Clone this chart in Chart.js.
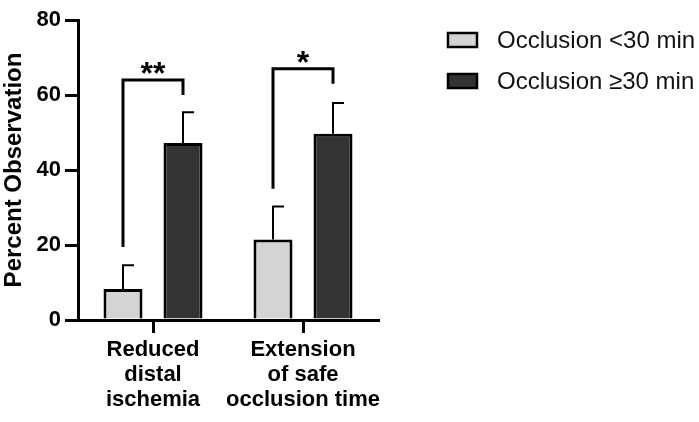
<!DOCTYPE html>
<html>
<head>
<meta charset="utf-8">
<script src="https://cdn.jsdelivr.net/npm/chart.js@4"></script>
<style>
  html, body { margin: 0; padding: 0; background: #ffffff; }
  #wrap { width: 699px; height: 422px; position: relative; }
</style>
</head>
<body>
<div id="wrap"><canvas id="myChart" width="699" height="422"></canvas></div>
<script>
// categories (multi-line labels)
var categories = [["Reduced", "distal", "ischemia"], ["Extension", "of safe", "occlusion time"]];
var seriesNames = ["Occlusion <30 min", "Occlusion \u226530 min"];

// mean values and upper error (SEM) per series
var shortValues = [8.3, 21.5];
var longValues = [47.2, 49.7];
var shortErr = [6.3, 8.8];
var longErr = [8.2, 8.2];

// y axis ticks
var yTicks = [0, 20, 40, 60, 80];

// significance brackets: left leg start, bracket top, right leg end, label
var bracketLeft = [19.5, 35];
var bracketTop = [64, 67];
var bracketRight = [60, 63];
var bracketText = ["**", "*"];

var lightColor = "#d4d4d4";
var darkColor = "#333333";

var data = {
    labels: categories,
    datasets: [{
        label: seriesNames[0],
        backgroundColor: lightColor,
        borderColor: "#000000",
        borderWidth: 3,
        data: shortValues,
        err: shortErr
    }, {
        label: seriesNames[1],
        backgroundColor: darkColor,
        borderColor: "#000000",
        borderWidth: 3,
        data: longValues,
        err: longErr
    }]
};

// error bars + brackets + legend
var extras = {
    id: "extras",
    afterDatasetsDraw: function (chart) {
        var ctx = chart.ctx;
        var y = chart.scales.y;
        ctx.save();
        ctx.strokeStyle = "#000000";
        ctx.lineCap = "butt";

        // error bars (upper only, cap to the right)
        chart.data.datasets.forEach(function (ds, di) {
            var meta = chart.getDatasetMeta(di);
            meta.data.forEach(function (bar, i) {
                var top = y.getPixelForValue(ds.data[i]);
                var end = y.getPixelForValue(ds.data[i] + ds.err[i]);
                ctx.lineWidth = 2;
                ctx.beginPath();
                ctx.moveTo(bar.x, top);
                ctx.lineTo(bar.x, end);
                ctx.moveTo(bar.x - 1, end);
                ctx.lineTo(bar.x + 11, end);
                ctx.stroke();
            });
        });

        // brackets
        var m0 = chart.getDatasetMeta(0);
        var m1 = chart.getDatasetMeta(1);
        for (var i = 0; i < bracketTop.length; i++) {
            var x0 = m0.data[i].x;
            var x1 = m1.data[i].x;
            var yt = y.getPixelForValue(bracketTop[i]);
            ctx.lineWidth = 3;
            ctx.beginPath();
            ctx.moveTo(x0, y.getPixelForValue(bracketLeft[i]));
            ctx.lineTo(x0, yt);
            ctx.lineTo(x1, yt);
            ctx.lineTo(x1, y.getPixelForValue(bracketRight[i]));
            ctx.stroke();
            ctx.fillStyle = "#000000";
            ctx.font = "bold 32px 'Liberation Sans', Arial, sans-serif";
            ctx.textAlign = "center";
            ctx.textBaseline = "alphabetic";
            ctx.fillText(bracketText[i], (x0 + x1) / 2, yt + 4);
        }

        // legend
        var colors = [lightColor, darkColor];
        var rows = [40, 81];
        ctx.font = "24px 'Liberation Sans', Arial, sans-serif";
        ctx.textAlign = "left";
        ctx.textBaseline = "middle";
        for (var k = 0; k < seriesNames.length; k++) {
            ctx.fillStyle = colors[k];
            ctx.fillRect(448, rows[k] - 7, 29, 14);
            ctx.lineWidth = 2.5;
            ctx.strokeRect(448, rows[k] - 7, 29, 14);
            ctx.fillStyle = "#111111";
            ctx.fillText(seriesNames[k], 497, rows[k] + 1);
        }
        ctx.restore();
    }
};

var options = {
    responsive: false,
    animation: false,
    layout: { padding: { top: 20, right: 321, left: 0, bottom: 0 } },
    plugins: {
        legend: { display: false },
        tooltip: { enabled: false }
    },
    datasets: {
        bar: { categoryPercentage: 0.8, barPercentage: 0.65, borderSkipped: "start" }
    },
    scales: {
        x: {
            offset: true,
            grid: {
                display: true,
                offset: false,
                drawOnChartArea: false,
                drawTicks: true,
                tickLength: 13,
                color: "#000000",
                lineWidth: 3
            },
            border: { display: true, color: "#000000", width: 3 },
            ticks: {
                color: "#000000",
                padding: 4,
                maxRotation: 0,
                autoSkip: false,
                font: { family: "'Liberation Sans', Arial, sans-serif", size: 22, weight: "bold", lineHeight: 1.14 }
            },
            afterFit: function (scale) { scale.height = 102; }
        },
        y: {
            min: 0,
            max: 80,
            afterBuildTicks: function (scale) {
                scale.ticks = yTicks.map(function (v) { return { value: v }; });
            },
            grid: {
                display: true,
                drawOnChartArea: false,
                drawTicks: true,
                tickLength: 13,
                color: "#000000",
                lineWidth: 3
            },
            border: { display: true, color: "#000000", width: 3 },
            ticks: {
                color: "#000000",
                padding: 4,
                font: { family: "'Liberation Sans', Arial, sans-serif", size: 22, weight: "bold" }
            },
            title: {
                display: true,
                text: "Percent Observation",
                color: "#000000",
                padding: { top: 0, bottom: 0 },
                font: { family: "'Liberation Sans', Arial, sans-serif", size: 24, weight: "bold" }
            },
            afterFit: function (scale) { scale.width = 78; }
        }
    }
};

var ctx = document.getElementById("myChart").getContext("2d");
var myChart = new Chart(ctx, {
    type: "bar",
    data: data,
    options: options,
    plugins: [extras]
});
</script>
</body>
</html>
